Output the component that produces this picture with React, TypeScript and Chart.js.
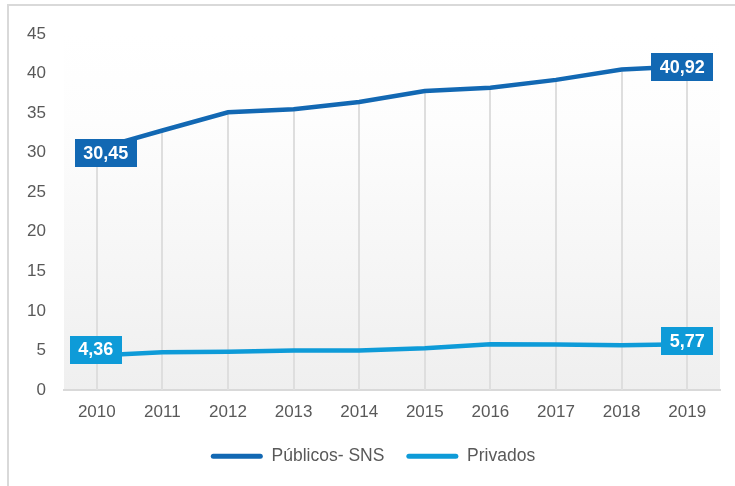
import React, { useEffect, useRef } from "react";
import { Chart, registerables } from "chart.js";

Chart.register(...registerables);

const years = ["2010", "2011", "2012", "2013", "2014", "2015", "2016", "2017", "2018", "2019"];
const publicos = [30.45, 32.8, 35.1, 35.5, 36.4, 37.8, 38.2, 39.2, 40.5, 40.92];
const privados = [4.36, 4.76, 4.85, 5.0, 5.0, 5.27, 5.78, 5.74, 5.65, 5.77];
const seriesNames = ["Públicos- SNS", "Privados"];
const seriesColors = ["#1268b3", "#0e9bd8"];
const yMin = 0;
const yMax = 45;
const yStep = 5;

const FONT = "'Liberation Sans', Arial, sans-serif";
const TEXT_COLOR = "#595959";
const GRID_COLOR = "#dedede";

// label box adjustments (style only): [datasetIndex][first/last] -> [dx, dy]
const labelShift = [
  [[9, 4], [-5, 1]],
  [[-1, -6], [0, -3]],
];

const bgPlugin = {
  id: "plotBg",
  beforeDraw(chart: any) {
    const { ctx, chartArea } = chart;
    if (!chartArea) return;
    const g = ctx.createLinearGradient(0, chartArea.top, 0, chartArea.bottom);
    g.addColorStop(0, "#ffffff");
    g.addColorStop(0.25, "#fdfdfd");
    g.addColorStop(1, "#efefef");
    ctx.save();
    ctx.fillStyle = g;
    ctx.fillRect(chartArea.left, chartArea.top, chartArea.right - chartArea.left, chartArea.bottom - chartArea.top);
    ctx.restore();
  },
};

// vertical category grid lines, drawn from the axis up to the top series only
const gridPlugin = {
  id: "partialGrid",
  beforeDatasetsDraw(chart: any) {
    const { ctx, chartArea } = chart;
    const xScale = chart.scales.x;
    const top = chart.getDatasetMeta(0).data;
    ctx.save();
    ctx.strokeStyle = GRID_COLOR;
    ctx.lineWidth = 2;
    years.forEach((_, i) => {
      const x = Math.round(xScale.getPixelForValue(i));
      const yTop = top[i] ? top[i].y : chartArea.top;
      ctx.beginPath();
      ctx.moveTo(x, chartArea.bottom);
      ctx.lineTo(x, yTop);
      ctx.stroke();
    });
    ctx.restore();
  },
};

const endLabelPlugin = {
  id: "endLabels",
  afterDatasetsDraw(chart: any) {
    const { ctx } = chart;
    ctx.save();
    ctx.font = `bold 18px ${FONT}`;
    ctx.textAlign = "center";
    ctx.textBaseline = "middle";
    chart.data.datasets.forEach((ds: any, di: number) => {
      const meta = chart.getDatasetMeta(di);
      const idxs = [0, ds.data.length - 1];
      idxs.forEach((idx, k) => {
        const pt = meta.data[idx];
        if (!pt) return;
        const v = ds.data[idx] as number;
        const text = v.toFixed(2).replace(".", ",");
        const tw = ctx.measureText(text).width;
        const w = tw + 17;
        const h = 28;
        const [dx, dy] = labelShift[di][k];
        const cx = pt.x + dx;
        const cy = pt.y + dy;
        ctx.fillStyle = ds.borderColor;
        ctx.fillRect(Math.round(cx - w / 2), Math.round(cy - h / 2), Math.round(w), h);
        ctx.fillStyle = "#ffffff";
        ctx.fillText(text, cx, cy + 1);
      });
    });
    ctx.restore();
  },
};

export default function App() {
  const canvasRef = useRef<HTMLCanvasElement | null>(null);

  useEffect(() => {
    if (!canvasRef.current) return;
    const chart = new Chart(canvasRef.current, {
      type: "line",
      data: {
        labels: years,
        datasets: [
          {
            label: seriesNames[0],
            data: publicos,
            borderColor: seriesColors[0],
            backgroundColor: seriesColors[0],
            borderWidth: 4.5,
            pointRadius: 0,
            tension: 0,
            fill: false,
          },
          {
            label: seriesNames[1],
            data: privados,
            borderColor: seriesColors[1],
            backgroundColor: seriesColors[1],
            borderWidth: 4.5,
            pointRadius: 0,
            tension: 0,
            fill: false,
          },
        ],
      },
      options: {
        responsive: false,
        animation: false,
        maintainAspectRatio: false,
        layout: { padding: { left: 26, right: 15, top: 34, bottom: 11 } },
        plugins: {
          tooltip: { enabled: false },
          legend: {
            position: "bottom",
            labels: {
              boxWidth: 52,
              boxHeight: 5,
              padding: 22,
              useBorderRadius: true,
              borderRadius: 2.5,
              color: TEXT_COLOR,
              font: { family: FONT, size: 17.5 },
              generateLabels: (c: any) =>
                Chart.defaults.plugins.legend.labels
                  .generateLabels(c)
                  .map((l: any) => ({ ...l, lineWidth: 0, fillStyle: l.strokeStyle })),
            },
          },
        },
        scales: {
          x: {
            offset: true,
            grid: { display: false, drawTicks: false },
            border: { display: true, color: "#d9d9d9", width: 2 },
            ticks: {
              color: TEXT_COLOR,
              font: { family: FONT, size: 17 },
              padding: 12,
              maxRotation: 0,
              autoSkip: false,
            },
            afterFit: (s: any) => {
              s.height = 35.5;
            },
          },
          y: {
            min: yMin,
            max: yMax,
            grid: { display: false, drawTicks: false },
            border: { display: false },
            ticks: {
              stepSize: yStep,
              color: TEXT_COLOR,
              font: { family: FONT, size: 17 },
              padding: 18,
            },
            afterFit: (s: any) => {
              s.width = 38;
            },
          },
        },
      },
      plugins: [bgPlugin, gridPlugin, endLabelPlugin],
    });
    return () => chart.destroy();
  }, []);

  return (
    <div style={{ position: "fixed", left: 0, top: 0, width: 735, height: 486, overflow: "hidden", background: "#ffffff" }}>
      <div
        style={{
          position: "absolute",
          left: 7,
          top: 4,
          width: 780,
          height: 540,
          border: "2px solid #d9d9d9",
          boxSizing: "border-box",
        }}
      />
      <canvas ref={canvasRef} width={735} height={486} style={{ position: "absolute", left: 0, top: 0 }} />
    </div>
  );
}
